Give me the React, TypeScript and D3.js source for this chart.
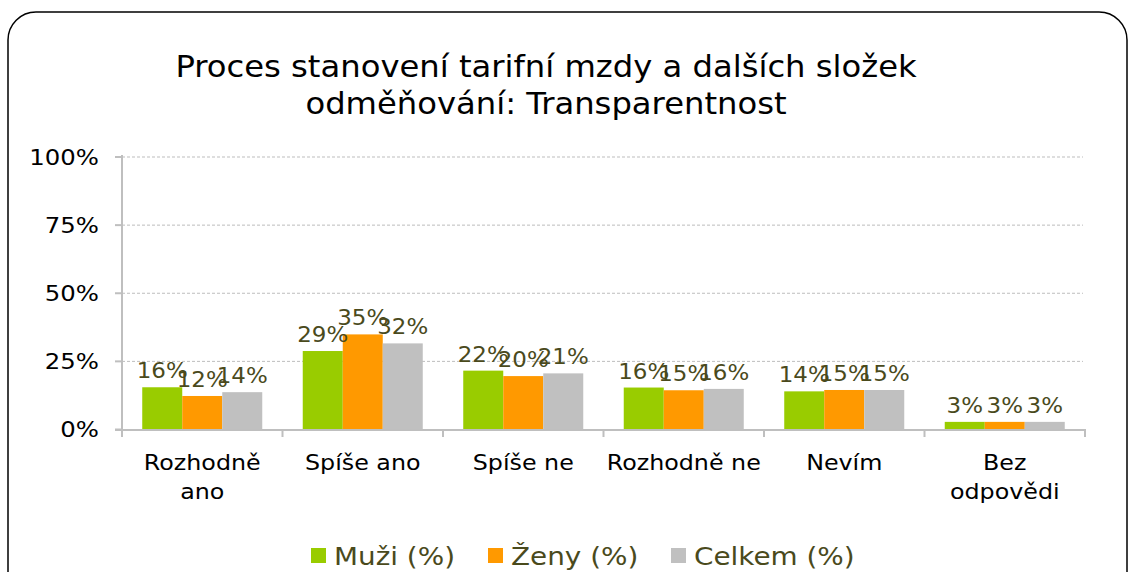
import React from "react";
import * as d3 from "d3";

const categories = [["Rozhodně", "ano"], ["Spíše ano"], ["Spíše ne"], ["Rozhodně ne"], ["Nevím"], ["Bez", "odpovědi"]];
const seriesNames = ["Muži (%)", "Ženy (%)", "Celkem (%)"];
const seriesColors = ["#99cc00", "#ff9900", "#c0c0c0"];
const muzi = [15.5, 28.8, 21.6, 15.4, 14.0, 2.8];
const zeny = [12.3, 34.9, 19.6, 14.4, 14.5, 2.8];
const celkem = [13.7, 31.6, 20.6, 14.9, 14.5, 2.8];
const labelsMuzi = ["16%", "29%", "22%", "16%", "14%", "3%"];
const labelsZeny = ["12%", "35%", "20%", "15%", "15%", "3%"];
const labelsCelkem = ["14%", "32%", "21%", "16%", "15%", "3%"];
const yTicks = [0, 25, 50, 75, 100];
const titleLines = ["Proces stanovení tarifní mzdy a dalších složek", "odměňování: Transparentnost"];

const W = 1128, H = 572;
const FONT = "'DejaVu Sans', Verdana, sans-serif";
const LABEL = "#4a4a1c";
const SX = 1.16;

function T({ x, y, anchor = "start", sx = SX, size, fill = "#000", children }: any) {
  return (
    <g transform={`translate(${x},${y}) scale(${sx},1)`}>
      <text x={0} y={0} textAnchor={anchor} fontSize={size} fill={fill}>{children}</text>
    </g>
  );
}

export default function App() {
  const values = [muzi, zeny, celkem];
  const labels = [labelsMuzi, labelsZeny, labelsCelkem];
  const x0 = d3.scaleBand<number>().domain(d3.range(categories.length)).range([122, 1085]).padding(0);
  const x1 = d3.scaleBand<number>().domain([0, 1, 2]).range([0, x0.bandwidth()]).paddingInner(0).paddingOuter(0.506);
  const y = d3.scaleLinear().domain([0, 100]).range([429.5, 157]);
  const boundaries = d3.range(categories.length + 1).map((i) => (i < categories.length ? x0(i)! : x0.range()[1]));
  const legendX = [311, 488, 671];

  return (
    <svg width={W} height={H} style={{ position: "absolute", left: 0, top: 0, background: "#fff" }} fontFamily={FONT}>
      <rect x={8} y={12} width={1119} height={600} rx={28} ry={28} fill="#fff" stroke="#000" strokeWidth={1.5} />
      {titleLines.map((t, i) => (
        <T key={i} x={546} y={77 + i * 37} anchor="middle" size={31} sx={1.04}>{t}</T>
      ))}
      {yTicks.map((t) => (
        <g key={t}>
          {t > 0 && <line x1={122} x2={1083} y1={y(t)} y2={y(t)} stroke="#bdbdbd" strokeWidth={1} strokeDasharray="3,2" />}
          <line x1={115} x2={122} y1={y(t)} y2={y(t)} stroke="#bfbfbf" strokeWidth={2} />
          <T x={99} y={y(t) + 7.5} anchor="end" size={21}>{t}%</T>
        </g>
      ))}
      {values.map((vals, s) =>
        vals.map((v, i) => (
          <rect key={`${s}-${i}`} x={x0(i)! + x1(s)!} y={y(v)} width={x1.bandwidth()} height={y(0) - y(v)} fill={seriesColors[s]} />
        ))
      )}
      <line x1={122} x2={122} y1={155} y2={431} stroke="#bfbfbf" strokeWidth={2} />
      <line x1={115} x2={1086} y1={430} y2={430} stroke="#bfbfbf" strokeWidth={2} />
      {boundaries.map((b, i) => (
        <line key={i} x1={b} x2={b} y1={430} y2={437} stroke="#bfbfbf" strokeWidth={2} />
      ))}
      {values.map((vals, s) =>
        vals.map((v, i) => (
          <T key={`l${s}-${i}`} x={x0(i)! + x1(s)! + x1.bandwidth() / 2} y={y(v) - 9} anchor="middle" size={20.5} sx={1.12} fill={LABEL}>
            {labels[s][i]}
          </T>
        ))
      )}
      {categories.map((lines, i) =>
        lines.map((l, j) => (
          <T key={`${i}-${j}`} x={x0(i)! + x0.bandwidth() / 2} y={470 + j * 29} anchor="middle" size={20.5}>{l}</T>
        ))
      )}
      {seriesNames.map((n, s) => (
        <g key={n}>
          <rect x={legendX[s]} y={548} width={15} height={15} fill={seriesColors[s]} />
          <T x={legendX[s] + 23} y={565} size={24} fill={LABEL}>{n}</T>
        </g>
      ))}
    </svg>
  );
}
